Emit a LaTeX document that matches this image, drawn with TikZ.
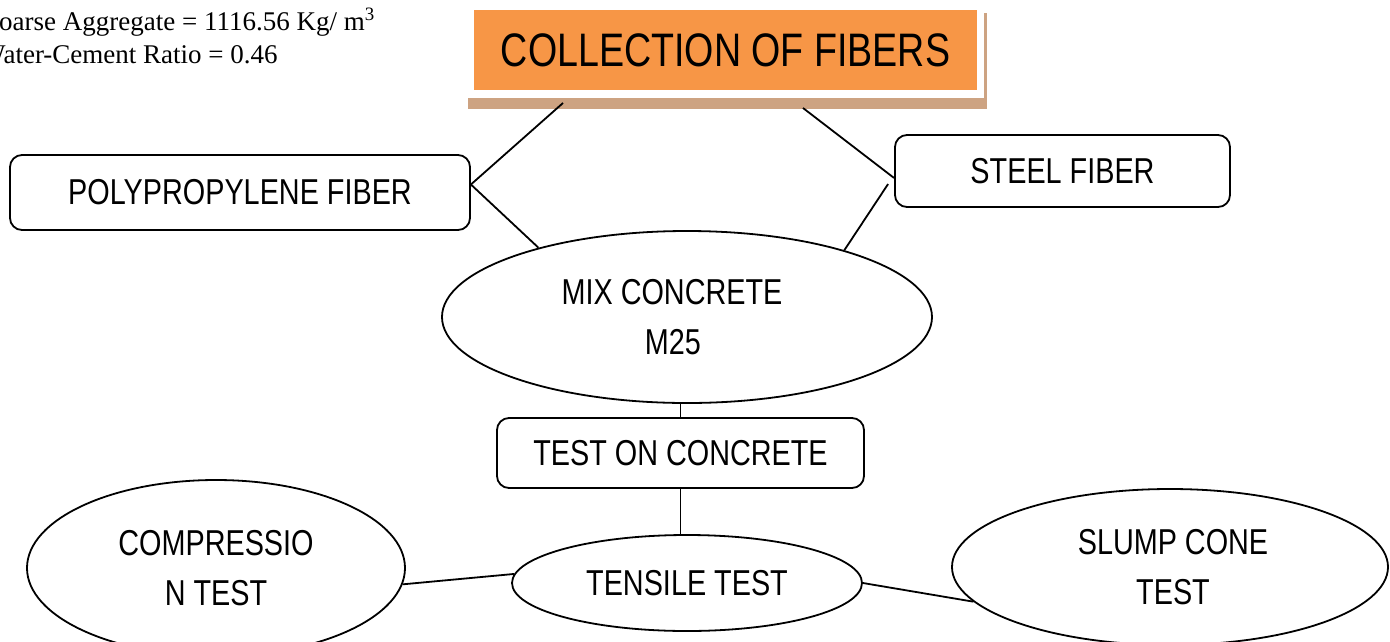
\documentclass[tikz,border=0pt]{standalone}
\usepackage{fontspec}
\setmainfont{Liberation Sans}[FakeStretch=0.8]
\newfontfamily\timesfont{Liberation Serif}
\usetikzlibrary{shapes.geometric}

\definecolor{fiberorange}{HTML}{F79646}
\definecolor{shadowtan}{RGB}{205,163,130}

\tikzset{
  box/.style={draw, rounded corners=12pt, line width=1.8pt, inner sep=0pt},
  oval/.style={draw, ellipse, line width=1.8pt, inner sep=0pt, align=center},
  link/.style={line width=1.8pt}
}

\begin{document}
\begin{tikzpicture}[x=1pt, y=-1pt, every node/.style={font=\fontsize{36}{50}\selectfont}]
\useasboundingbox (0,0) rectangle (1390,641);
\clip (0,0) rectangle (1390,641);

% mix data
\node[anchor=base west, inner sep=0pt, font=\timesfont\fontsize{27}{33}\selectfont] (agg) at (-19,30) {Coarse Aggregate = 1116.56 Kg/ m\textsuperscript{3}};
\node[anchor=base west, inner sep=0pt, font=\timesfont\fontsize{27}{33}\selectfont] (wcr) at (-20,63) {Water-Cement Ratio = 0.46};

% title with shadow
\fill[shadowtan] (468,13) rectangle (987,109);
\fill[white] (466,10) rectangle (984,98);
\node[fill=fiberorange, minimum width=503pt, minimum height=80pt, inner sep=0pt, font=\fontsize{47}{50}\selectfont] (title) at (725.5,50) {COLLECTION OF FIBERS};
\coordinate (tl) at (563,103);
\coordinate (tr) at (803,108);

% fibers
\node[box, minimum width=460pt, minimum height=75pt] (poly) at (240,192.5) {POLYPROPYLENE FIBER};
\node[box, minimum width=335pt, minimum height=72pt] (steel) at (1062.5,171) {STEEL FIBER};

% mix and tests
\node[oval, minimum width=490pt, minimum height=172pt] (mix) at (687,317) {MIX CONCRETE\hspace*{30pt}\\M25\hspace*{28pt}};
\node[box, minimum width=367pt, minimum height=70pt] (test) at (680.5,453) {TEST ON CONCRETE};
\node[oval, minimum width=350pt, minimum height=96pt] (tensile) at (687,583) {TENSILE TEST};
\node[oval, minimum width=378pt, minimum height=176pt] (comp) at (216,568) {COMPRESSIO\\N TEST};
\node[oval, minimum width=436pt, minimum height=156pt] (slump) at (1170,567) {\hspace*{6pt}SLUMP CONE\\\hspace*{6pt}TEST};

% connectors
\draw[link] (tl) -- ([yshift=8pt]poly.east);
\draw[link] ([yshift=8pt]poly.east) -- (mix.155);
\draw[link] (tr) -- ([yshift=-7pt]steel.west);
\draw[link] ([shift={(-6pt,-13pt)}]steel.west) -- (mix.23);
\draw[link] (test.north) -- (test.north |- mix.south);
\draw[link] (test.south) -- (test.south |- tensile.north);
\draw[link] (comp.-5) -- (tensile.177);
\draw[link] (tensile.east) -- (slump.190);
\end{tikzpicture}
\end{document}
